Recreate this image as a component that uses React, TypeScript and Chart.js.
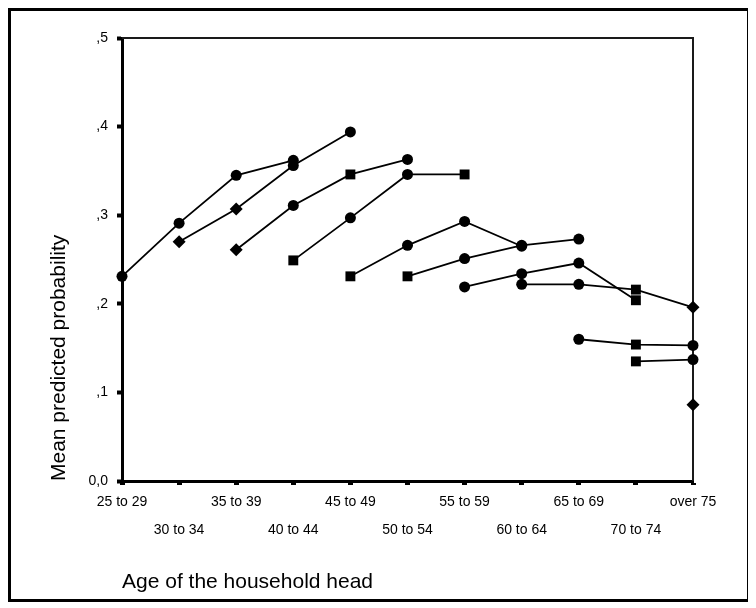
import React, { useEffect, useRef } from 'react';
import { Chart, registerables } from 'chart.js';

Chart.register(...registerables);

// ---- data ----
const categories = [
  '25 to 29', '30 to 34', '35 to 39', '40 to 44', '45 to 49', '50 to 54',
  '55 to 59', '60 to 64', '65 to 69', '70 to 74', 'over 75',
];
const yTickLabels = ['0,0', ',1', ',2', ',3', ',4', ',5'];
const xAxisTitle = 'Age of the household head';
const yAxisTitle = 'Mean predicted probability';

const N = null;
const cohortA = [0.231, 0.291, 0.345, 0.362, N, N, N, N, N, N, N];
const cohortB = [N, 0.270, 0.307, 0.356, 0.394, N, N, N, N, N, N];
const cohortC = [N, N, 0.261, 0.311, 0.346, 0.363, N, N, N, N, N];
const cohortD = [N, N, N, 0.249, 0.297, 0.346, 0.346, N, N, N, N];
const cohortE = [N, N, N, N, 0.231, 0.266, 0.293, 0.265, N, N, N];
const cohortF = [N, N, N, N, N, 0.231, 0.251, 0.266, 0.273, N, N];
const cohortG = [N, N, N, N, N, N, 0.219, 0.234, 0.246, 0.204, N];
const cohortH = [N, N, N, N, N, N, N, 0.222, 0.222, 0.216, 0.196];
const cohortI = [N, N, N, N, N, N, N, N, 0.160, 0.154, 0.153];
const cohortJ = [N, N, N, N, N, N, N, N, N, 0.135, 0.137];
const cohortK = [N, N, N, N, N, N, N, N, N, N, 0.086];

const seriesList = [cohortA, cohortB, cohortC, cohortD, cohortE, cohortF, cohortG, cohortH, cohortI, cohortJ, cohortK];
// marker shapes for the non-null points of each series: c = circle, s = square, d = diamond
const markerCodes = ['cccc', 'ddcc', 'dcsc', 'sccs', 'sccc', 'sccc', 'cccs', 'ccsd', 'csc', 'sc', 'd'];

const FONT = "'Liberation Sans', Arial, Helvetica, sans-serif";

const styleFor = (code: string) => {
  if (code === 's') return { style: 'rect', r: 7 };
  if (code === 'd') return { style: 'rectRot', r: 6.5 };
  return { style: 'circle', r: 5.5 };
};

const framePlugin = {
  id: 'plotFrame',
  beforeDatasetsDraw(chart: any) {
    const { ctx, chartArea } = chart;
    const { left, top, right, bottom } = chartArea;
    ctx.save();
    ctx.strokeStyle = '#1a1a1a';
    ctx.lineWidth = 2;
    ctx.beginPath();
    ctx.moveTo(left, top);
    ctx.lineTo(right, top);
    ctx.lineTo(right, bottom);
    ctx.stroke();
    ctx.restore();
  },
};

export default function App() {
  const canvasRef = useRef<HTMLCanvasElement | null>(null);

  useEffect(() => {
    if (!canvasRef.current) return;

    const datasets = seriesList.map((values, si) => {
      const codes = markerCodes[si];
      const styles: string[] = [];
      const radii: number[] = [];
      let k = 0;
      values.forEach((v) => {
        if (v === null) {
          styles.push('circle');
          radii.push(0);
        } else {
          const s = styleFor(codes[k] || 'c');
          k += 1;
          styles.push(s.style);
          radii.push(s.r);
        }
      });
      return {
        label: 'cohort ' + (si + 1),
        data: values,
        borderColor: '#000',
        backgroundColor: '#000',
        borderWidth: 1.8,
        tension: 0,
        spanGaps: false,
        pointStyle: styles,
        pointRadius: radii,
        pointBackgroundColor: '#000',
        pointBorderColor: '#000',
        pointBorderWidth: 0,
        clip: false as any,
      };
    });

    const chart = new Chart(canvasRef.current, {
      type: 'line',
      data: { labels: categories, datasets },
      plugins: [framePlugin],
      options: {
        animation: false,
        responsive: false,
        devicePixelRatio: 1,
        layout: { padding: { left: 0, top: 27, right: 54, bottom: 0 } },
        plugins: {
          legend: { display: false },
          tooltip: { enabled: false },
        },
        scales: {
          x: {
            type: 'category',
            offset: false,
            afterFit: (scale: any) => { scale.height = 118; },
            grid: {
              display: true,
              drawOnChartArea: false,
              drawTicks: true,
              tickLength: 4,
              tickWidth: 5,
              tickColor: '#000',
              offset: false,
            },
            border: { display: true, color: '#000', width: 3 },
            ticks: {
              autoSkip: false,
              maxRotation: 0,
              minRotation: 0,
              padding: 3,
              color: '#000',
              font: { family: FONT, size: 14, lineHeight: '28px' },
              callback: (_v: any, index: number) =>
                index % 2 === 0 ? categories[index] : ['', categories[index]],
            },
            title: {
              display: true,
              text: xAxisTitle,
              align: 'start',
              color: '#000',
              font: { family: FONT, size: 21, lineHeight: 1.2 },
              padding: { top: 0, bottom: 4 },
            },
          },
          y: {
            type: 'linear',
            min: 0,
            max: 0.5,
            afterFit: (scale: any) => { scale.width = 111; },
            grid: {
              display: true,
              drawOnChartArea: false,
              drawTicks: true,
              tickLength: 5,
              tickWidth: 4,
              tickColor: '#000',
            },
            border: { display: true, color: '#000', width: 3 },
            ticks: {
              stepSize: 0.1,
              padding: 9,
              color: '#000',
              font: { family: FONT, size: 14 },
              callback: (_v: any, index: number) => yTickLabels[index],
            },
            title: {
              display: true,
              text: yAxisTitle,
              align: 'start',
              color: '#000',
              font: { family: FONT, size: 21, lineHeight: 1.2 },
              padding: { top: 36, bottom: 0 },
            },
          },
        },
      } as any,
    });

    return () => chart.destroy();
  }, []);

  return (
    <div
      style={{
        position: 'relative',
        width: 742,
        height: 594,
        border: '3px solid #000',
        boxSizing: 'border-box',
        background: '#fff',
      }}
    >
      <canvas
        ref={canvasRef}
        width={736}
        height={588}
        style={{ display: 'block', width: 736, height: 588 }}
      />
    </div>
  );
}
